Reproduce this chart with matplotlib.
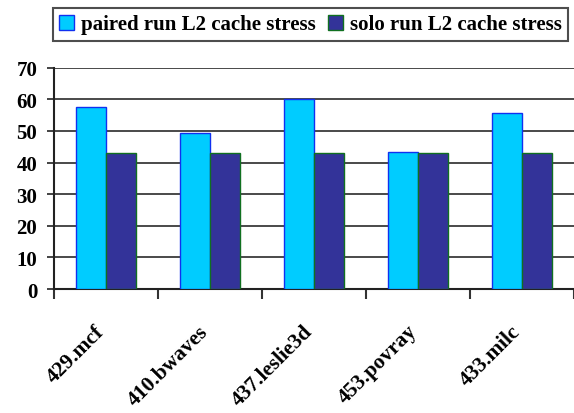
import matplotlib
matplotlib.use('Agg')
import matplotlib.pyplot as plt
import numpy as np

# benchmark results
benchmarks = ['429.mcf', '410.bwaves', '437.leslie3d', '453.povray', '433.milc']
paired = [57.5, 49.2, 60.1, 43.3, 55.7]
solo = [43.0, 43.0, 43.0, 43.0, 43.0]
yticks = [0, 10, 20, 30, 40, 50, 60, 70]

plt.rcParams['font.family'] = ['Liberation Serif', 'DejaVu Serif']
plt.rcParams['font.weight'] = 'bold'

fig = plt.figure(figsize=(5.74, 4.14), dpi=100)
ax = fig.add_axes([0.094, 0.2995, 0.906, 0.5345])

n = len(benchmarks)
x = np.arange(n)
w = 0.29
b1 = ax.bar(x - w/2, paired, w, color='#00CCFF', edgecolor='#1030F0', linewidth=1.0,
            label='paired run L2 cache stress', zorder=3)
b2 = ax.bar(x + w/2, solo, w, color='#333399', edgecolor='#107020', linewidth=1.0,
            label='solo run L2 cache stress', zorder=3)

ax.set_xlim(-0.5, n - 0.5)
ax.set_ylim(0, 70)
ax.set_yticks(yticks)
ax.yaxis.grid(True, color='#2a2a2a', linewidth=1.2, zorder=0)
ax.set_axisbelow(True)

# tick marks sit on category boundaries; labels hang from just left of each group
ax.set_xticks(np.arange(n + 1) - 0.5)
ax.set_xticklabels([])
ax.set_xticks(x - 0.11, minor=True)
ax.set_xticklabels(benchmarks, minor=True, rotation=45, ha='right', va='top',
                   rotation_mode='anchor', fontsize=15.5)
ax.tick_params(axis='x', which='minor', length=0, pad=23)
ax.tick_params(axis='x', which='major', length=7, width=1.5, color='#333333', direction='out')
ax.tick_params(axis='y', length=5, width=1.2, color='#222222', labelsize=15, pad=7)

for s in ['top', 'right']:
    ax.spines[s].set_visible(False)
ax.spines['left'].set_color('#222222')
ax.spines['left'].set_linewidth(1.5)
ax.spines['bottom'].set_color('#222222')
ax.spines['bottom'].set_linewidth(1.5)

leg = fig.legend(handles=[b1, b2], loc='upper left', bbox_to_anchor=(0.092, 0.884, 0.898, 0.094),
                 mode='expand', ncol=2, fontsize=15, frameon=True, fancybox=False,
                 edgecolor='#222222', handlelength=0.72, handleheight=0.72, handletextpad=0.35,
                 columnspacing=0.6, borderpad=0.3, borderaxespad=0)
leg.get_frame().set_linewidth(1.5)

fig.savefig('out.png', dpi=100)
